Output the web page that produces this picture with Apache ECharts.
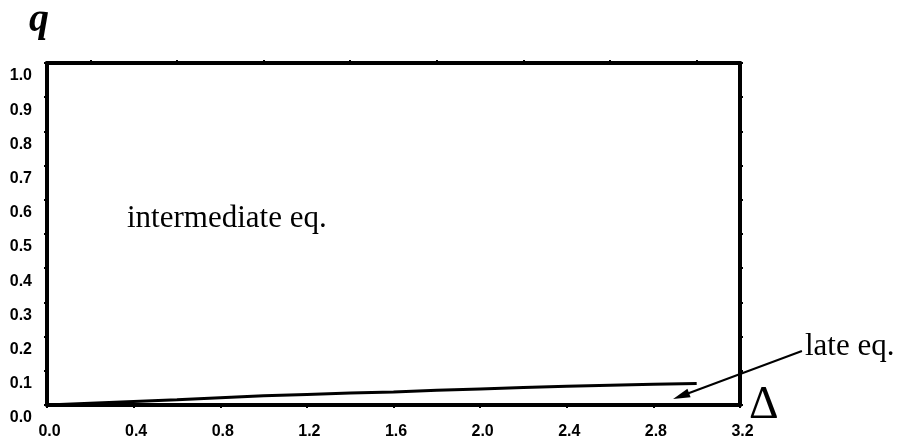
<!DOCTYPE html>
<html>
<head>
<meta charset="utf-8">
<script src="https://cdn.jsdelivr.net/npm/echarts@6/dist/echarts.min.js"></script>
<style>
  html, body { margin: 0; padding: 0; background: #ffffff; }
  #chart { width: 905px; height: 446px; }
</style>
</head>
<body>
<div id="chart"></div>
<script>
// Boundary between the intermediate and late equilibrium regions
const deltaValues = [0, 0.2, 0.4, 0.6, 0.8, 1.0, 1.2, 1.4, 1.6, 1.8, 2.0, 2.2, 2.4, 2.6, 2.8, 3.0];
const qValues = [0, 0.005, 0.010, 0.015, 0.021, 0.027, 0.031, 0.035, 0.038, 0.043, 0.047, 0.051, 0.055, 0.058, 0.061, 0.063];

// Axis ticks
const xTickLabels = [0.0, 0.4, 0.8, 1.2, 1.6, 2.0, 2.4, 2.8, 3.2];
const yTickLabels = [0.0, 0.1, 0.2, 0.3, 0.4, 0.5, 0.6, 0.7, 0.8, 0.9, 1.0];
const xTopTicks = [0.2, 0.6, 1.0, 1.4, 1.8, 2.2, 2.6, 3.0];

// Region labels and the pointer to the late-equilibrium strip (data space)
const regionLabels = ['intermediate eq.', 'late eq.'];
const arrowFrom = [3.486, 0.158];
const arrowTo = [2.891, 0.0175];

const lineData = deltaValues.map((d, i) => [d, qValues[i]]);

const tickFont = {
  fontFamily: '"Liberation Sans", Arial, sans-serif',
  fontWeight: 'bold',
  fontSize: 16,
  color: '#000'
};

const frameLine = { show: true, onZero: false, lineStyle: { color: '#000', width: 4 } };
const smallTick = { show: true, inside: false, length: 3, lineStyle: { color: '#000', width: 2 } };

const chart = echarts.init(document.getElementById('chart'));

chart.setOption({
  animation: false,
  backgroundColor: '#ffffff',
  grid: { left: 47, right: 165, top: 63, bottom: 41, containLabel: false },
  xAxis: [
    {
      type: 'value', position: 'bottom', min: 0, max: 3.2, interval: 0.4,
      axisLine: frameLine,
      splitLine: { show: false },
      axisLabel: Object.assign({
        margin: 19,
        padding: [0, 0, 0, 5],
        customValues: xTickLabels,
        formatter: v => v.toFixed(1)
      }, tickFont),
      axisTick: Object.assign({ customValues: xTickLabels }, smallTick)
    },
    {
      type: 'value', position: 'top', min: 0, max: 3.2,
      axisLine: frameLine,
      axisTick: Object.assign({ customValues: xTopTicks }, smallTick),
      axisLabel: { show: false },
      splitLine: { show: false }
    }
  ],
  yAxis: [
    {
      type: 'value', position: 'left', min: 0, max: 1.0, interval: 0.1,
      axisLine: frameLine,
      axisTick: smallTick,
      splitLine: { show: false },
      axisLabel: Object.assign({
        margin: 15,
        verticalAlign: 'top',
        lineHeight: 26,
        customValues: yTickLabels,
        formatter: v => v.toFixed(1)
      }, tickFont)
    },
    {
      type: 'value', position: 'right', min: 0, max: 1.0, interval: 0.1,
      axisLine: frameLine,
      axisTick: smallTick,
      axisLabel: { show: false },
      splitLine: { show: false }
    }
  ],
  series: [
    {
      type: 'line',
      data: lineData,
      showSymbol: false,
      lineStyle: { color: '#000', width: 3 }
    }
  ]
});

// Pointer from the "late eq." label down into the strip under the curve
const p0 = chart.convertToPixel({ xAxisIndex: 0, yAxisIndex: 0 }, arrowFrom);
const p1 = chart.convertToPixel({ xAxisIndex: 0, yAxisIndex: 0 }, arrowTo);
const dx = p1[0] - p0[0], dy = p1[1] - p0[1];
const len = Math.sqrt(dx * dx + dy * dy);
const ux = dx / len, uy = dy / len;
const headLen = 17, headHalf = 4.5;
const bx = p1[0] - ux * headLen, by = p1[1] - uy * headLen;

const serifFont = '"Liberation Serif", "Times New Roman", serif';

chart.setOption({
  graphic: [
    {
      id: 'label-intermediate', type: 'text', left: 127, top: 203,
      style: { text: regionLabels[0], font: '31px ' + serifFont, fill: '#000' }
    },
    {
      id: 'label-late', type: 'text', left: 805, top: 331,
      style: { text: regionLabels[1], font: '31px ' + serifFont, fill: '#000' }
    },
    {
      id: 'axis-q', type: 'text', left: 29, top: 1,
      style: { text: 'q', font: 'italic bold 40px ' + serifFont, fill: '#000' }
    },
    {
      id: 'axis-delta', type: 'text', left: 749, top: 383,
      style: { text: 'Δ', font: '46px ' + serifFont, fill: '#000' }
    },
    {
      id: 'arrow-shaft', type: 'line', silent: true,
      shape: { x1: p0[0], y1: p0[1], x2: bx + ux * 2, y2: by + uy * 2 },
      style: { stroke: '#000', lineWidth: 2 }
    },
    {
      id: 'arrow-head', type: 'polygon', silent: true,
      shape: { points: [
        [p1[0], p1[1]],
        [bx - uy * headHalf, by + ux * headHalf],
        [bx + uy * headHalf, by - ux * headHalf]
      ] },
      style: { fill: '#000' }
    }
  ]
});
</script>
</body>
</html>
